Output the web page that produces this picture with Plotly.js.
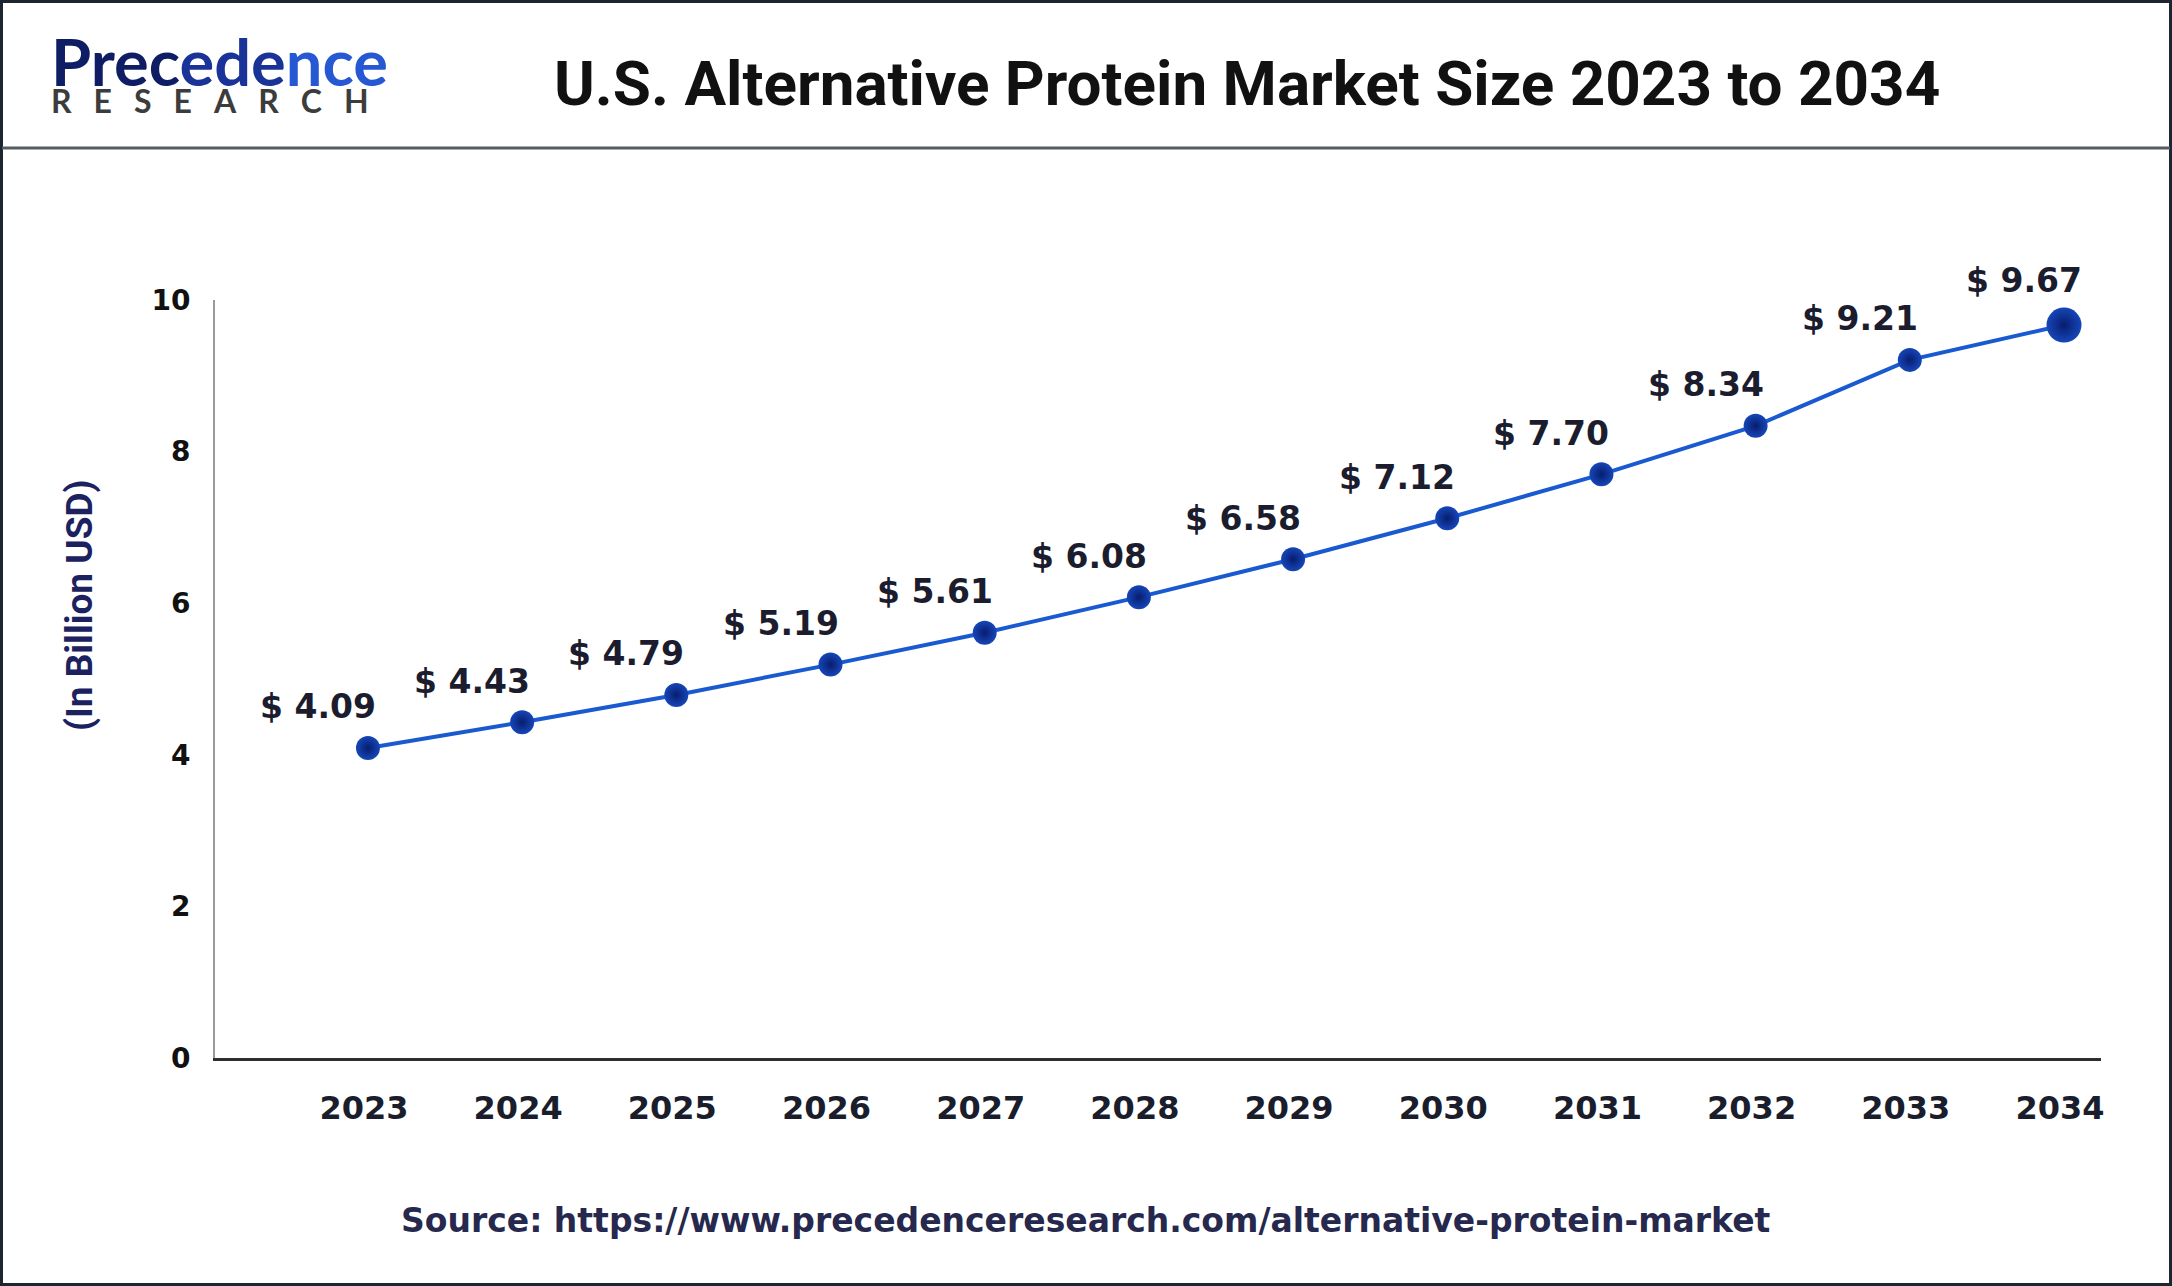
<!DOCTYPE html>
<html><head><meta charset="utf-8">
<script src="https://cdn.plot.ly/plotly-3.0.1.min.js"></script>
<style>html,body{margin:0;padding:0;background:#fff;} #chart{width:2172px;height:1286px;}</style>
</head><body><div id="chart"></div>
<script>
// ---- data ----
const years = [2023, 2024, 2025, 2026, 2027, 2028, 2029, 2030, 2031, 2032, 2033, 2034];
const values = [4.09, 4.43, 4.79, 5.19, 5.61, 6.08, 6.58, 7.12, 7.70, 8.34, 9.21, 9.67];
const valueLabels = ["$ 4.09", "$ 4.43", "$ 4.79", "$ 5.19", "$ 5.61", "$ 6.08", "$ 6.58", "$ 7.12", "$ 7.70", "$ 8.34", "$ 9.21", "$ 9.67"];
const yTicks = [0, 2, 4, 6, 8, 10];
const xTickLabels = ["2023", "2024", "2025", "2026", "2027", "2028", "2029", "2030", "2031", "2032", "2033", "2034"];
const titleText = "U.S. Alternative Protein Market Size 2023 to 2034";
const yTitleText = "(In Billion USD)";
const sourceText = "Source: https://www.precedenceresearch.com/alternative-protein-market";
const logoParts = ["Prec", "ede", "nce"];
const logoSub = ["R", "E", "S", "E", "A", "R", "C", "H"].join("\u2002\u2009\u200A");

// ---- layout helpers (pixel -> paper) ----
const W = 2172, H = 1286;
const M = {l: 215, r: 71, t: 300, b: 228};
const PW = W - M.l - M.r, PH = H - M.t - M.b;
const X = px => (px - M.l) / PW;
const Y = py => (H - M.b - py) / PH;

const logoColors = ["#0f1d64", "#1a3398", "#2658d4"];
const logoHtml = logoParts.map((c, i) => `<span style="color:${logoColors[i]}">${c}</span>`).join("");
const logoText = `<span style="font-size:65px">${logoHtml}</span><br><span style="font-size:32px;color:#3c3c3c">${logoSub}</span>`;

const last = values.length - 1;
const trace = {
  x: years, y: values, type: "scatter", mode: "lines+markers", cliponaxis: false,
  line: {color: "#1a5ad0", width: 4},
  marker: {
    size: values.map((v, i) => i === last ? 35 : 24),
    color: "#1646b8",
    opacity: 1,
    gradient: {type: "radial", color: "#071d6e"},
    line: {width: 0}
  },
  hoverinfo: "skip"
};

const labelAnns = values.map((v, i) => ({
  x: years[i], y: v, xref: "x", yref: "y", text: valueLabels[i], showarrow: false,
  xanchor: "center", yanchor: "middle", xshift: i === last ? -40 : -50, yshift: i === last ? 45 : 41,
  font: {family: "DejaVu Sans", size: 33, color: "#1b1d2e", weight: "bold"}
}));

const annotations = labelAnns.concat([
  {xref: "paper", yref: "paper", x: X(1247), y: Y(83), text: titleText, showarrow: false,
   xanchor: "center", yanchor: "middle", font: {family: "Roboto", size: 62, color: "#111111", weight: "bold"}},
  {xref: "paper", yref: "paper", x: X(79), y: Y(605), text: yTitleText, showarrow: false,
   textangle: -90, xanchor: "center", yanchor: "middle", font: {family: "Roboto", size: 37, color: "#1c2260", weight: "bold"}},
  {xref: "paper", yref: "paper", x: X(1086), y: Y(1220), text: sourceText, showarrow: false,
   xanchor: "center", yanchor: "middle", font: {family: "DejaVu Sans", size: 33, color: "#26294d", weight: "bold"}},
  {xref: "paper", yref: "paper", x: X(49), y: Y(71), text: logoText, showarrow: false, align: "left",
   xanchor: "left", yanchor: "middle", font: {family: "Lato", size: 21, color: "#12237a", weight: "bold"}}
]);

const shapes = [
  {type: "rect", xref: "paper", yref: "paper", x0: X(1.5), x1: X(W - 1.5), y0: Y(1.5), y1: Y(H - 1.5),
   line: {color: "#1c2530", width: 3}, fillcolor: "rgba(0,0,0,0)", layer: "above"},
  {type: "line", xref: "paper", yref: "paper", x0: X(2), x1: X(W - 2), y0: Y(148), y1: Y(148),
   line: {color: "#555b63", width: 3}}
];

const layout = {
  width: W, height: H, margin: M, paper_bgcolor: "#ffffff", plot_bgcolor: "#ffffff",
  showlegend: false,
  xaxis: {
    type: "linear", range: [2022.008, 2034.24], tickvals: years, ticktext: xTickLabels,
    showgrid: false, zeroline: false, showline: true, linecolor: "#2e2e2e", linewidth: 3,
    ticks: "", ticklabelstandoff: 20, ticklabelshift: -4,
    tickfont: {family: "DejaVu Sans", size: 32, color: "#1a1d2b", weight: "bold"}
  },
  yaxis: {
    range: [0, 10], tickvals: yTicks, showgrid: false, zeroline: false,
    showline: true, linecolor: "#9a9a9a", linewidth: 2, ticks: "", ticklabelstandoff: 17,
    tickfont: {family: "DejaVu Sans", size: 28, color: "#111111", weight: "bold"}
  },
  annotations: annotations, shapes: shapes
};

Plotly.newPlot("chart", [trace], layout, {displayModeBar: false, staticPlot: true});
</script></body></html>
